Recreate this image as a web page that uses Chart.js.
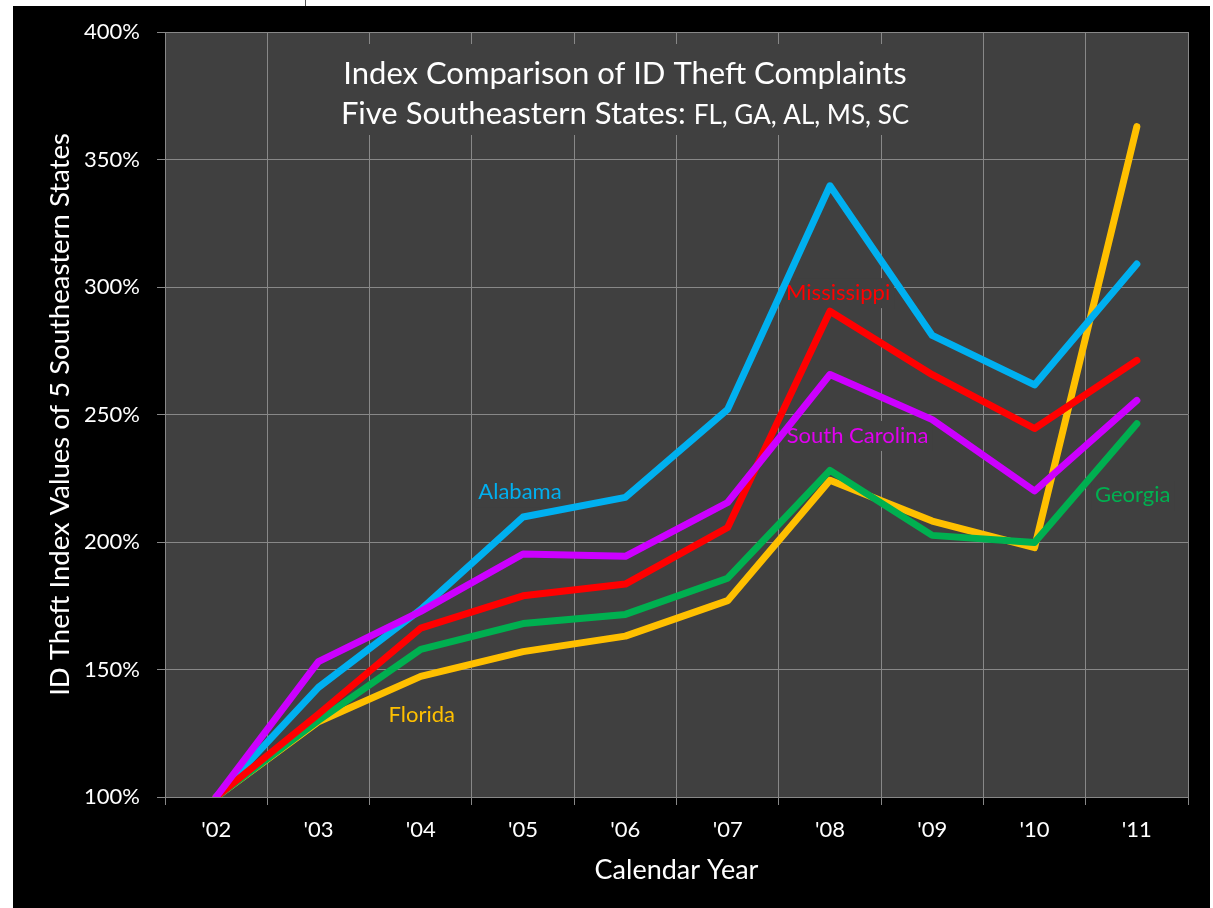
<!DOCTYPE html>
<html>
<head>
<meta charset="utf-8">
<script src="https://cdn.jsdelivr.net/npm/chart.js@4/dist/chart.umd.min.js"></script>
<style>
html,body{margin:0;padding:0;background:#fff;}
#wrap{width:1213px;height:908px;position:relative;}
canvas{display:block;}
</style>
</head>
<body>
<div id="wrap"><canvas id="c" width="1213" height="908"></canvas></div>
<script>
// ---- data ----
const years = ["'02","'03","'04","'05","'06","'07","'08","'09","'10","'11"];
const florida       = [100, 129.5, 147.3, 157.0, 163.1, 177.0, 224.2, 208.2, 197.8, 362.9];
const georgia       = [100, 130.0, 157.9, 168.0, 171.6, 185.8, 228.1, 202.6, 199.8, 246.4];
const alabama       = [100, 143.0, 173.5, 209.8, 217.5, 252.0, 339.7, 281.0, 261.6, 309.0];
const mississippi   = [100, 132.5, 166.2, 178.9, 183.5, 205.7, 290.5, 265.6, 244.5, 271.2];
const southCarolina = [100, 153.1, 172.8, 195.3, 194.4, 215.5, 265.7, 248.0, 220.0, 255.5];
const yTicks = [100, 150, 200, 250, 300, 350, 400];
const seriesNames = ["Alabama", "Mississippi", "South Carolina", "Georgia", "Florida"];

const FONT = 'Lato, "Open Sans", sans-serif';
const GRID = '#888888';

// label anchors (category index, value) for the in-chart series names
const labelIdx = [2.97, 6.08, 6.27, 8.96, 2.01];
const labelVal = [219.6, 297.6, 241.6, 218.4, 132.2];
const labelColors = ['#00B0F0', '#FF0000', '#E000F0', '#00B050', '#FFC000'];

const bgPlugin = {
  id: 'bg',
  beforeDraw(chart) {
    const ctx = chart.ctx, a = chart.chartArea;
    ctx.save();
    ctx.fillStyle = '#ffffff';
    ctx.fillRect(0, 0, chart.width, chart.height);
    ctx.fillStyle = '#000000';
    ctx.fillRect(13, 6, 1197, chart.height - 6);
    ctx.fillStyle = '#404040';
    ctx.fillRect(a.left, a.top, a.right - a.left, a.bottom - a.top);
    ctx.strokeStyle = '#555555';
    ctx.lineWidth = 1;
    ctx.beginPath(); ctx.moveTo(305.5, 0); ctx.lineTo(305.5, 6); ctx.stroke();
    ctx.restore();
  }
};

const textPlugin = {
  id: 'texts',
  beforeDatasetsDraw(chart) {
    const ctx = chart.ctx, a = chart.chartArea;
    const xs = chart.scales.x, ys = chart.scales.y;
    ctx.save();
    // title
    const cx = a.left + 460;
    const l1 = 'Index Comparison of ID Theft Complaints';
    const l2a = 'Five Southeastern States: ';
    const l2b = 'FL, GA, AL, MS, SC';
    ctx.font = '31px ' + FONT;
    const w1 = ctx.measureText(l1).width;
    const w2a = ctx.measureText(l2a).width;
    ctx.font = '26px ' + FONT;
    const w2b = ctx.measureText(l2b).width;
    const bw = Math.max(w1, w2a + w2b) + 12;
    ctx.fillStyle = '#404040';
    ctx.fillRect(cx - bw / 2, a.top + 12, bw, 91);
    ctx.fillStyle = '#ffffff';
    ctx.textBaseline = 'alphabetic';
    ctx.textAlign = 'left';
    ctx.font = '31px ' + FONT;
    ctx.fillText(l1, cx - w1 / 2, a.top + 52);
    const x2 = cx - (w2a + w2b) / 2;
    ctx.fillText(l2a, x2, a.top + 92);
    ctx.font = '26px ' + FONT;
    ctx.fillText(l2b, x2 + w2a, a.top + 92);

    // series labels
    ctx.font = '22px ' + FONT;
    ctx.textAlign = 'center';
    ctx.textBaseline = 'middle';
    seriesNames.forEach((n, i) => {
      const px = xs.getPixelForValue(labelIdx[i]);
      const py = ys.getPixelForValue(labelVal[i]);
      const w = ctx.measureText(n).width;
      ctx.fillStyle = '#404040';
      ctx.fillRect(px - w / 2 - 4, py - 15, w + 8, 30);
      ctx.fillStyle = labelColors[i];
      ctx.fillText(n, px, py);
    });
    ctx.restore();
  }
};

const ds = (label, data, color, order) => ({
  label, data, borderColor: color, backgroundColor: color,
  borderWidth: 7, pointRadius: 0, tension: 0, fill: false,
  borderCapStyle: 'round', borderJoinStyle: 'round', clip: 0, order
});

new Chart(document.getElementById('c'), {
  type: 'line',
  data: {
    labels: years,
    datasets: [
      ds('South Carolina', southCarolina, '#CC00FF', 0),
      ds('Mississippi', mississippi, '#FF0000', 1),
      ds('Alabama', alabama, '#00B0F0', 2),
      ds('Georgia', georgia, '#00B050', 3),
      ds('Florida', florida, '#FFC000', 4)
    ]
  },
  options: {
    responsive: false,
    animation: false,
    devicePixelRatio: 1,
    layout: { padding: { left: 0, top: 32, right: 25, bottom: 0 } },
    plugins: { legend: { display: false }, tooltip: { enabled: false } },
    scales: {
      x: {
        offset: true,
        grid: { offset: true, color: GRID, lineWidth: 1, tickLength: 8, tickColor: GRID, drawTicks: true },
        border: { display: true, color: GRID },
        ticks: { color: '#ffffff', font: { family: FONT, size: 22 }, padding: 12, maxRotation: 0 },
        title: { display: true, text: 'Calendar Year', color: '#ffffff', font: { family: FONT, size: 27 }, padding: { top: 0, bottom: 22 } },
        afterFit(s) { s.height = 111; }
      },
      y: {
        min: 100, max: 400,
        afterBuildTicks(s) { s.ticks = yTicks.map(v => ({ value: v })); },
        grid: { color: GRID, lineWidth: 1, tickLength: 8, tickColor: GRID, drawTicks: true },
        border: { display: true, color: GRID },
        ticks: { color: '#ffffff', font: { family: FONT, size: 22 }, padding: 17, callback: v => v + '%' },
        title: { display: true, text: 'ID Theft Index Values of 5 Southeastern States', color: '#ffffff', font: { family: FONT, size: 27.5 }, padding: { top: 44, bottom: 0 } },
        afterFit(s) { s.width = 165; }
      }
    }
  },
  plugins: [bgPlugin, textPlugin]
});
</script>
</body>
</html>
